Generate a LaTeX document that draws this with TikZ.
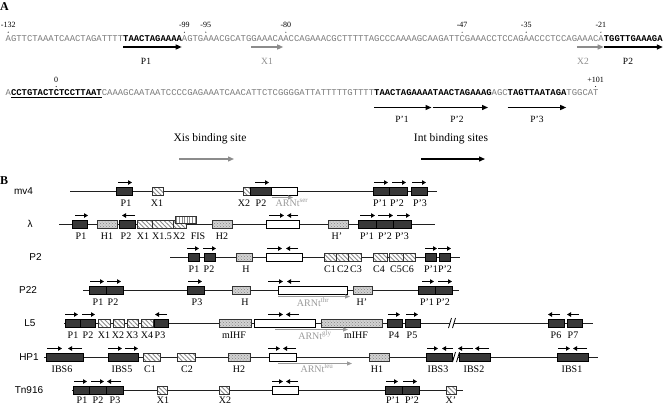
\documentclass[tikz,border=0pt]{standalone}
\usepackage{fontspec}
\setmainfont{Liberation Serif}
\setsansfont{Liberation Sans}
\setmonofont{Liberation Mono}
\usetikzlibrary{arrows.meta,patterns,patterns.meta}
\definecolor{seqgray}{HTML}{7A7A7A}
\definecolor{xgray}{HTML}{8C8C8C}
\definecolor{arngray}{HTML}{9A9A9A}
\definecolor{boxdark}{HTML}{383838}
\definecolor{dotbg}{HTML}{D2D2D2}
\definecolor{dotfg}{HTML}{858585}
\definecolor{hatchgray}{HTML}{8A8A8A}
\definecolor{linegray}{HTML}{202020}
\newcommand\rowy{0}
\newcommand\labdy{15.5}
\newcommand\gRow[1]{\renewcommand\rowy{#1}}
\newcommand\gBold[1]{{\color{black}\bfseries #1}}
\newcommand\gBox[3]{\path[#1] (#2,\rowy-4) rectangle (#3,\rowy+4);}
\newcommand\gArr[2]{\draw[barr] (#1,\rowy-8.5) -- (#2,\rowy-8.5);}
\newcommand\gLab[2]{\node[lab, anchor=base] (L\rowy-#1) at (#1,\rowy+\labdy) {#2};}
\newcommand\gLine[2]{\draw[bline] (#1,\rowy) -- (#2,\rowy);}
\newcommand\gTrna[3]{\draw[tarr] (#1,\rowy+6.5) -- (#2,\rowy+6.5);}
\newcommand\gBrk[1]{%
  \fill[white] (#1-3.5,\rowy+5) -- (#1-0.5,\rowy-5) -- (#1+3.5,\rowy-5) -- (#1+0.5,\rowy+5) -- cycle;
  \draw[line width=0.8] (#1-3.5,\rowy+5) -- (#1-0.5,\rowy-5);
  \draw[line width=0.8] (#1+0.5,\rowy+5) -- (#1+3.5,\rowy-5);}
\newcommand\gNum[4]{\node[numl, anchor=base] (#1) at (#2,#3) {#4}; \fill (#2,#3+4.5) circle (0.55);}
\begin{document}
\begin{tikzpicture}[x=1pt,y=-1pt,
  seq/.style={font=\fontsize{8.9}{10}\selectfont\ttfamily, inner sep=0, text=seqgray},
  numl/.style={font=\fontsize{8}{9}\selectfont, inner sep=0},
  alab/.style={font=\fontsize{9.5}{11}\selectfont, inner sep=0},
  leg/.style={font=\fontsize{11.5}{13}\selectfont, inner sep=0},
  panel/.style={font=\fontsize{12}{14}\selectfont\bfseries, inner sep=0},
  rowname/.style={font=\fontsize{10}{12}\selectfont\sffamily, inner sep=0, anchor=base},
  lab/.style={font=\fontsize{10}{12}\selectfont, inner sep=0},
  glab/.style={lab, text=arngray},
  bline/.style={draw=linegray, line width=0.8},
  dark/.style={draw=black, fill=boxdark, line width=0.6},
  hatch/.style={preaction={fill=white}, pattern={Lines[angle=-45,distance=3.2pt,line width=0.9pt]}, pattern color=hatchgray, draw=black!80, line width=0.6},
  dotb/.style={preaction={fill=dotbg}, pattern=crosshatch dots, pattern color=dotfg, draw=black!80, line width=0.6},
  vlin/.style={preaction={fill=white}, pattern={Lines[angle=90,distance=2.6pt,line width=0.8pt]}, pattern color=hatchgray, draw=black!80, line width=0.6},
  wbox/.style={fill=white, draw=black, line width=0.6},
  barr/.style={draw=black, line width=1.4, -{Triangle[length=4pt,width=4.5pt]}},
  sarr/.style={draw=black, line width=1.3, -{Triangle[length=6pt,width=5pt]}},
  sgarr/.style={draw=xgray, line width=1.3, -{Triangle[length=6pt,width=5pt]}},
  tarr/.style={draw=arngray, line width=1, -{Triangle[length=5pt,width=4pt]}}
]
\useasboundingbox (0,0) rectangle (664,405);
% ---------------- Panel A
\node[panel, anchor=base west] (pA) at (0,10) {A};
\node[seq, anchor=base west] (s1) at (5.5,41.6) {AGTTCTAAATCAACTAGATTTT\gBold{TAACTAGAAAA}AGTGAAACGCATGGAAACAACCAGAAACGCTTTTTAGCCCAAAAGCAAGATTCGAAACCTCCAGAACCCTCCAGAAACA\gBold{TGGTTGAAAGA}};
\node[seq, anchor=base west] (s2) at (5.5,95) {A\gBold{CCTGTACTCTCCTTAAT}CAAAGCAATAATCCCCGAGAAATCAACATTCTCGGGGATTATTTTTGTTTT\gBold{TAACTAGAAAATAACTAGAAAG}AGC\gBold{TAGTTAATAGA}TGGCAT};
\coordinate (u1) at (10.8,97.4); \coordinate (u2) at (101.6,97.4);
\draw[line width=0.7] (u1) -- (u2);
\gNum{n1}{8.2}{27.7}{-132}
\gNum{n2}{184.4}{27.7}{-99}
\gNum{n3}{205.8}{27.7}{-95}
\gNum{n4}{285.9}{27.7}{-80}
\gNum{n5}{462.1}{27.7}{-47}
\gNum{n6}{526.2}{27.7}{-35}
\gNum{n7}{600.9}{27.7}{-21}
\gNum{n8}{56.2}{82}{0}
\gNum{n9}{595.6}{82}{+101}
% arrows line 1
\coordinate (a1s) at (123,47); \coordinate (a1e) at (181.7,47);
\coordinate (a2s) at (251.1,47); \coordinate (a2e) at (283.2,47);
\coordinate (a3s) at (576.9,47); \coordinate (a3e) at (603.6,47);
\coordinate (a4s) at (603.6,47); \coordinate (a4e) at (662.8,47);
\draw[sarr] (a1s) -- (a1e);
\draw[sgarr] (a2s) -- (a2e);
\draw[sgarr] (a3s) -- (a3e);
\draw[sarr] (a4s) -- (a4e);
\node[alab, anchor=base] (lp1) at (146,64) {P1};
\node[alab, anchor=base, text=xgray] (lx1) at (267,64) {X1};
\node[alab, anchor=base, text=xgray] (lx2) at (583,64) {X2};
\node[alab, anchor=base] (lp2) at (628,64) {P2};
% arrows line 2
\coordinate (b1s) at (374,107.5); \coordinate (b1e) at (431.5,107.5);
\coordinate (b2s) at (432.7,107.5); \coordinate (b2e) at (488,107.5);
\coordinate (b3s) at (507.5,107.5); \coordinate (b3e) at (566.2,107.5);
\draw[sarr] (b1s) -- (b1e);
\draw[sarr] (b2s) -- (b2e);
\draw[sarr] (b3s) -- (b3e);
\node[alab, anchor=base] (lq1) at (402,122) {P'1};
\node[alab, anchor=base] (lq2) at (457,122) {P'2};
\node[alab, anchor=base] (lq3) at (537,122) {P'3};
% legend
\node[leg, anchor=base] (lx) at (210,141.8) {Xis binding site};
\node[leg, anchor=base] (li) at (451,141.8) {Int binding sites};
\coordinate (g1s) at (179,159); \coordinate (g1e) at (234,159);
\coordinate (g2s) at (421,159); \coordinate (g2e) at (485,159);
\draw[sgarr] (g1s) -- (g1e);
\draw[sarr] (g2s) -- (g2e);
% ---------------- Panel B
\node[panel, anchor=base west] (pB) at (0,184) {B};
% mv4
\gRow{191}
\node[rowname] (rn1) at (23.5,194.6) {mv4};
\gLine{70}{437}
\gBox{dark}{116}{132}
\gBox{hatch}{152}{163}
\gBox{hatch}{243}{250}
\gBox{dark}{250}{271}
\gBox{wbox}{271}{297}
\gBox{dark}{373}{389}
\gBox{dark}{389}{407}
\gBox{dark}{411}{427}
\gArr{118}{132}\gArr{255}{269}\gArr{374}{388}\gArr{392}{406}\gArr{412}{426}
\gTrna{272}{293}{}
\gLab{126}{P1}\gLab{157}{X1}\gLab{244}{X2}\gLab{261}{P2}
\node[glab, anchor=base] (t1) at (292,206.5) {ARNt\textsuperscript{ser}};
\gLab{380}{P'1}\gLab{397}{P'2}\gLab{420}{P'3}
% lambda
\gRow{224}
\node[rowname] (rn2) at (30,227.6) {λ};
\gLine{59}{435}
\gBox{dark}{72}{87}
\gBox{dotb}{97}{117}
\gBox{dark}{119}{135}
\gBox{hatch}{137}{152}
\gBox{hatch}{152}{173}
\gBox{hatch}{173}{186}
\path[vlin] (175,216.5) rectangle (196,223.5);
\gBox{dotb}{212}{232}
\gBox{wbox}{266}{299}
\gBox{dotb}{328}{348}
\gBox{dark}{358}{376}
\gBox{dark}{376}{393}
\gBox{dark}{393}{411}
\gArr{75}{88}\gArr{135}{122}\gArr{269}{284}\gArr{298}{287}\gArr{360}{375}\gArr{378}{393}\gArr{397}{410}
\gLab{81}{P1}\gLab{107}{H1}\gLab{126}{P2}\gLab{143}{X1}\gLab{162}{X1.5}\gLab{179}{X2}\gLab{198}{FIS}\gLab{222}{H2}
\gLab{337}{H'}\gLab{367}{P'1}\gLab{385}{P'2}\gLab{402}{P'3}
% P2
\gRow{257}
\node[rowname] (rn3) at (35.5,260.6) {P2};
\gLine{170}{460}
\gBox{dark}{188}{199}
\gBox{dark}{204}{215}
\gBox{dotb}{236}{252}
\gBox{wbox}{266}{302}
\gBox{hatch}{324}{336}
\gBox{hatch}{336}{348}
\gBox{hatch}{348}{361}
\gBox{hatch}{373}{387}
\gBox{hatch}{389}{403}
\gBox{hatch}{403}{415}
\gBox{dark}{425}{436}
\gBox{dark}{439}{450}
\gArr{187}{199}\gArr{203}{216}\gArr{267}{282}\gArr{298}{286}\gArr{425}{437}\gArr{438}{451}
\gLab{194}{P1}\gLab{209}{P2}\gLab{246}{H}\gLab{330}{C1}\gLab{343}{C2}\gLab{356}{C3}
\gLab{379}{C4}\gLab{396}{C5}\gLab{408}{C6}\gLab{431}{P'1}\gLab{445}{P'2}
% P22
\gRow{290}
\node[rowname] (rn4) at (28,293.6) {P22};
\gLine{83}{459}
\gBox{dark}{89}{106}
\gBox{dark}{106}{123}
\gBox{dark}{187}{204}
\gBox{dotb}{232}{250}
\gBox{wbox}{278}{347}
\gBox{dotb}{353}{372}
\gBox{dark}{418}{435}
\gBox{dark}{435}{452}
\gArr{90}{104}\gArr{107}{121}\gArr{188}{202}\gArr{268}{283}\gArr{300}{287}\gArr{422}{434}\gArr{438}{452}
\gTrna{278}{350}{}
\gLab{98}{P1}\gLab{113}{P2}\gLab{197}{P3}\gLab{245}{H}
\node[glab, anchor=base] (t2) at (313,306.5) {ARNt\textsuperscript{thr}};
\gLab{362}{H'}\gLab{427}{P'1}\gLab{443}{P'2}
% L5
\gRow{323}
\node[rowname] (rn5) at (30,326.6) {L5};
\gLine{64}{593}
\gBox{dark}{65}{80}
\gBox{dark}{80}{95}
\gBox{hatch}{98}{110}
\gBox{hatch}{113}{124}
\gBox{hatch}{127}{138}
\gBox{hatch}{141}{153}
\gBox{dark}{154}{168}
\gBox{dotb}{219}{251}
\gBox{wbox}{254}{315}
\gBox{dotb}{321}{382}
\gBox{dark}{387}{402}
\gBox{dark}{405}{420}
\gBox{dark}{548}{564}
\gBox{dark}{567}{582}
\gBrk{452}
\gArr{65}{78}\gArr{82}{95}\gArr{167}{155}\gArr{268}{283}\gArr{299}{286}\gArr{388}{400}\gArr{406}{418}\gArr{560}{548}\gArr{579}{567}
\gTrna{275}{348}{}
\gLab{73}{P1}\gLab{88}{P2}\gLab{104}{X1}\gLab{118}{X2}\gLab{132}{X3}\gLab{147}{X4}\gLab{160}{P3}
\gLab{234}{mIHF}
\node[glab, anchor=base] (t3) at (315,339.5) {ARNt\textsuperscript{gly}};
\gLab{356}{mIHF}\gLab{394}{P4}\gLab{412}{P5}\gLab{556}{P6}\gLab{573}{P7}
% HP1
\gRow{357}
\node[rowname] (rn6) at (29,360.6) {HP1};
\gLine{44}{598}
\gBox{dark}{46}{83}
\gBox{dark}{108}{138}
\gBox{hatch}{143}{160}
\gBox{hatch}{177}{195}
\gBox{dotb}{228}{250}
\gBox{wbox}{269}{296}
\gBox{dotb}{369}{389}
\gBox{dark}{426}{452}
\gBox{dark}{459}{490}
\gBox{dark}{557}{588}
\gBrk{456}
\gArr{47}{62}\gArr{82}{68}\gArr{108}{122}\gArr{125}{138}\gArr{268}{280}\gArr{296}{283}
\gArr{427}{438}\gArr{453}{442}\gArr{473}{458}\gArr{489}{475}\gArr{558}{570}\gArr{587}{573}
\gTrna{278}{352}{}
\gLab{62}{IBS6}\gLab{122}{IBS5}\gLab{150}{C1}\gLab{187}{C2}\gLab{239}{H2}
\node[glab, anchor=base] (t4) at (317,372.5) {ARNt\textsuperscript{leu}};
\gLab{377}{H1}\gLab{438}{IBS3}\gLab{474}{IBS2}\gLab{572}{IBS1}
% Tn916
\gRow{390}
\renewcommand\labdy{13.3}
\node[rowname] (rn7) at (29,393.6) {Tn916};
\gLine{72}{463}
\gBox{dark}{73}{89}
\gBox{dark}{89}{106}
\gBox{dark}{106}{123}
\gBox{hatch}{157}{167}
\gBox{hatch}{219}{229}
\gBox{wbox}{272}{298}
\gBox{dark}{385}{402}
\gBox{dark}{402}{419}
\gBox{hatch}{446}{456}
\gArr{74}{87}\gArr{91}{104}\gArr{121}{107}\gArr{272}{283}\gArr{298}{286}\gArr{386}{398}\gArr{403}{417}
\gLab{82}{P1}\gLab{98}{P2}\gLab{115}{P3}\gLab{163}{X1}\gLab{225}{X2}\gLab{393}{P'1}\gLab{412}{P'2}\gLab{451}{X'}
\end{tikzpicture}
\end{document}
